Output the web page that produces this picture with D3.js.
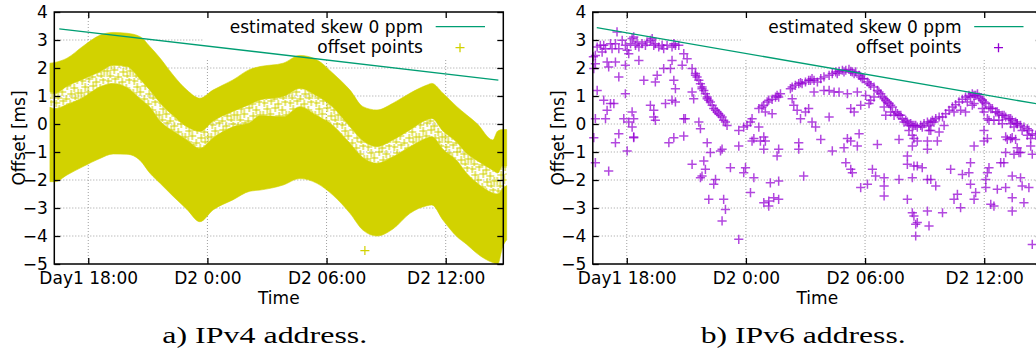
<!DOCTYPE html>
<html>
<head>
<meta charset="utf-8">
<script src="https://cdn.jsdelivr.net/npm/d3@7"></script>
<style>
  body { margin: 0; background: #fff; }
  svg { display: block; }
</style>
</head>
<body>
<svg id="chart" width="1036" height="349"></svg>
<script>
// ---- axis ranges and labels (time in hours from Day1 00:00, offset in ms) ----
const timeDomain = [16.29, 38.9];
const offsetDomain = [-5, 4];
const tickHours = [18, 24, 30, 36];
const tickLabels = ["Day1 18:00", "D2 0:00", "D2 06:00", "D2 12:00"];
const offsetTicks = [-5, -4, -3, -2, -1, 0, 1, 2, 3, 4];
const captions = ["a) IPv4 address.", "b) IPv6 address."];
const legendLabels = ["estimated skew 0 ppm", "offset points"];

// ---- IPv4: the offset cloud, described by its envelopes ----
const v4Time      = [16.07, 16.33, 16.93, 17.74, 18.59, 19.25, 19.95, 20.61, 21.11, 21.62, 22.27, 22.97, 23.62, 24.28, 25.28, 26.14, 26.65, 27.81, 28.66, 29.52, 30.32, 31.18, 31.83, 32.54, 33.34, 34.20, 35.05, 35.30, 35.86, 36.56, 37.06, 37.57, 38.37, 38.62, 38.87, 39.07];
const v4Upper     = [2.17, 2.20, 2.35, 2.78, 3.17, 3.27, 3.24, 3.12, 2.76, 2.35, 1.75, 1.21, 0.92, 1.21, 1.57, 1.95, 2.05, 2.17, 2.45, 2.29, 1.81, 1.21, 0.62, 0.50, 0.74, 1.10, 1.39, 1.45, 1.10, 0.62, 0.32, 0.02, -0.57, -0.25, -0.20, -0.20];
const v4GapTop    = [1.15, 1.10, 1.35, 1.60, 1.87, 2.10, 2.05, 1.60, 1.20, 0.75, 0.30, -0.10, -0.27, 0.10, 0.45, 0.70, 0.86, 0.98, 1.27, 1.00, 0.60, -0.10, -0.60, -0.81, -0.57, -0.21, 0.15, 0.20, -0.25, -0.65, -1.05, -1.30, -1.65, -1.75, -1.50, -1.50];
const v4GapBottom = [0.60, 0.55, 0.70, 0.95, 1.33, 1.45, 1.30, 0.90, 0.60, 0.10, -0.25, -0.57, -0.87, -0.50, -0.10, 0.05, 0.30, 0.26, 0.62, 0.30, -0.05, -0.69, -1.20, -1.40, -1.17, -0.81, -0.50, -0.45, -0.90, -1.30, -1.76, -2.10, -2.46, -2.50, -2.30, -2.20];
const v4Lower     = [-2.06, -2.06, -1.82, -1.52, -1.23, -1.07, -1.08, -1.30, -1.76, -2.12, -2.58, -3.05, -3.49, -3.07, -2.71, -2.40, -2.36, -2.18, -1.95, -2.12, -2.54, -3.19, -3.79, -4.00, -3.75, -3.19, -2.92, -2.89, -3.43, -4.02, -4.30, -4.62, -4.95, -5.00, -4.38, -4.14];
const v4Outliers  = [[31.93, -4.52]];
const v4Skew      = [[16.54, 3.40], [38.65, 1.57]];

// ---- IPv6: individual offset points [hour, offset ms] ----
const v6Points = [
  // early plateau
  [16.42, 2.45], [16.51, 2.75], [16.67, 2.81], [16.84, 2.81], [16.93, 2.69], [16.76, 2.57], [17.18, 2.87], [17.26, 2.69],
  [17.51, 3.29], [17.43, 2.87], [17.60, 2.69], [17.77, 2.99], [17.93, 2.81], [18.02, 2.63], [18.10, 2.51], [18.19, 2.87],
  [18.27, 3.05], [18.35, 3.11], [18.44, 2.81], [18.52, 2.93], [18.61, 2.75], [18.77, 2.87], [18.94, 2.81], [19.02, 2.93],
  [19.19, 2.99], [19.28, 3.05], [19.36, 2.81], [19.44, 2.87], [19.61, 2.75], [19.78, 2.81], [19.86, 2.69], [20.03, 2.81],
  [20.28, 2.75], [20.37, 2.87], [20.45, 2.81], [20.62, 2.81], [20.87, 2.51], [16.32, 2.40],
  // scattered below the plateau
  [16.34, 1.98], [16.42, 2.15], [17.01, 2.21], [17.09, 2.04], [17.43, 2.21], [17.60, 1.68], [17.93, 2.10], [18.61, 2.27],
  [18.86, 1.56], [19.44, 1.50], [19.53, 1.74], [19.86, 1.98], [20.20, 1.98], [20.28, 2.27], [20.37, 1.56], [20.45, 1.26],
  [20.79, 2.10], [16.51, 1.20], [16.84, 0.85], [17.18, 0.73], [17.01, 0.49], [17.35, 0.73], [17.93, 1.08], [18.27, 0.43],
  [18.10, 0.07], [18.35, 0.19], [18.27, -0.11], [17.85, 0.19], [19.19, 0.67], [19.36, 0.25], [19.44, 0.13], [19.95, 0.73],
  [20.28, 0.85], [20.45, 0.79], [20.87, 0.19], [20.95, 0.19], [21.29, 1.14], [21.37, 0.90], [21.63, 0.07], [21.71, -0.17],
  [16.42, 0.19], [16.93, 0.19], [17.60, -0.35], [18.35, -0.46], [19.36, 0.49],
  // first descent and trough
  [21.04, 2.33], [21.29, 1.98], [21.46, 1.80], [21.54, 1.68], [21.63, 1.56], [21.71, 1.44], [21.79, 1.32], [21.88, 1.20],
  [21.96, 1.08], [22.05, 0.96], [22.13, 0.85], [22.21, 0.79], [22.30, 0.67], [22.38, 0.55], [22.47, 0.49], [22.63, 0.37],
  [22.80, 0.25], [22.88, 0.13], [22.97, 0.07], [23.05, -0.05], [23.64, -0.23], [23.89, -0.11], [24.06, -0.05], [24.23, 0.07],
  [24.31, 0.19], [21.46, 1.74], [21.79, 1.26], [22.05, 0.90], [22.55, 0.43], [22.72, 0.31],
  // first rise
  [24.65, 0.55], [24.81, 0.61], [24.90, 0.67], [25.07, 0.79], [25.15, 0.85], [25.32, 0.88], [25.49, 0.96], [25.57, 1.02],
  [25.65, 0.96], [25.74, 1.08], [26.24, 1.26], [26.33, 1.32], [26.49, 1.38], [26.66, 1.44], [26.75, 1.48], [26.83, 1.44],
  [27.00, 1.50], [27.16, 1.56], [27.25, 1.56], [27.33, 1.62],
  [26.33, 0.90], [26.41, 0.67], [26.58, 0.49], [26.75, 0.19], [27.00, 0.43], [27.16, 0.55], [27.33, 0.07], [25.32, 0.37],
  [24.98, 0.43], [24.65, -0.11], [24.40, -0.52], [24.90, -0.46],
  // second hump, trough, third hump
  [27.43, 1.56], [27.60, 1.50], [27.77, 1.62], [27.93, 1.68], [28.19, 1.74], [28.35, 1.80], [28.52, 1.86], [28.69, 1.88],
  [28.86, 1.92], [29.03, 1.92], [29.19, 1.95], [29.28, 1.88], [29.45, 1.80], [29.53, 1.86], [29.70, 1.74], [29.78, 1.68],
  [29.95, 1.62], [30.12, 1.50], [30.28, 1.38], [30.45, 1.32], [30.62, 1.20], [30.79, 1.08], [30.87, 0.96], [30.96, 0.90],
  [31.04, 0.85], [31.12, 0.79], [31.21, 0.73], [31.38, 0.61], [31.54, 0.43], [31.71, 0.31], [31.88, 0.19], [32.05, 0.13],
  [32.13, 0.07], [32.30, 0.01], [32.46, -0.05], [32.63, -0.11], [32.80, -0.05], [32.97, 0.01], [33.14, 0.07], [33.39, 0.13],
  [33.56, 0.19], [33.73, 0.25], [33.90, 0.25], [34.06, 0.37], [34.23, 0.49], [34.40, 0.61], [34.56, 0.69], [34.73, 0.79],
  [34.90, 0.88], [35.06, 0.96], [35.23, 1.02], [35.40, 1.08], [35.57, 1.02], [35.74, 0.96], [35.91, 0.85], [36.08, 0.73],
  [36.24, 0.61], [36.41, 0.55], [36.58, 0.43], [36.74, 0.37], [36.91, 0.31], [37.08, 0.25], [37.25, 0.19], [37.41, 0.13],
  [37.58, 0.07], [37.83, -0.05], [38.00, -0.11], [38.25, -0.23], [38.42, -0.35], [38.59, -0.40],
  [28.60, 1.80], [28.94, 1.86], [29.36, 1.86], [29.86, 1.62], [30.20, 1.44], [30.70, 1.14], [31.29, 0.67], [31.63, 0.37],
  [32.21, -0.05], [32.38, -0.05], [32.55, -0.05], [32.88, -0.11], [33.22, -0.05], [33.31, 0.07], [35.31, 0.96], [35.49, 1.02],
  [35.66, 1.08], [35.83, 0.90], [35.99, 0.79], [36.33, 0.55], [36.66, 0.43], [37.00, 0.31], [37.33, 0.19], [37.66, 0.01],
  [38.17, -0.17],
  // secondary trace and scatter near the humps
  [27.43, 1.14], [27.93, 1.20], [28.19, 1.20], [28.44, 1.14], [28.69, 1.14], [29.11, 1.08], [29.61, 1.14], [30.03, 1.02],
  [30.28, 0.85], [30.45, 0.96], [28.19, 0.25], [29.28, 0.55], [29.45, 0.43], [29.78, 0.67], [30.20, 0.73], [30.96, 0.61],
  [31.04, 0.31], [31.29, 0.43], [31.46, 0.31], [31.80, 0.31], [31.96, 0.07], [32.21, -0.23], [32.38, -0.40], [32.46, -0.52],
  [33.22, -0.23], [33.47, 0.07], [33.31, -0.23], [33.73, -0.29], [33.98, -0.05], [34.48, 0.43], [34.81, 0.49], [35.06, 0.43],
  [35.15, 0.79], [35.40, 0.67], [35.49, 0.73], [35.91, 0.55], [35.99, 0.43], [36.16, 0.19], [36.24, 0.13], [36.49, 0.13],
  [36.74, 0.13], [36.91, 0.01], [37.33, 0.01], [37.50, -0.11], [37.66, 0.01], [37.91, -0.23], [38.17, -0.40], [38.34, -0.52],
  [35.99, -0.23], [36.16, -0.52], [37.08, -0.46], [37.33, -0.52], [27.51, -0.11], [29.70, -0.35], [29.11, -0.52],
  // lower scatter, first half
  [16.34, -0.49], [16.42, -1.38], [17.09, -1.68], [17.43, -0.67], [18.02, -0.96], [18.35, -0.49], [20.12, -0.67], [20.37, -0.49],
  [20.87, -0.43], [21.29, -1.44], [21.88, -1.32], [21.96, -1.62], [21.71, -1.92], [21.79, -1.86], [22.05, -0.67], [22.21, -1.02],
  [22.38, -2.15], [22.47, -1.98], [22.72, -0.96], [22.80, -0.90], [22.13, -2.69], [22.88, -2.69], [22.97, -3.05], [22.80, -3.46],
  [23.22, -1.56], [23.64, -0.79], [23.64, -4.12], [23.89, -1.74], [23.98, -1.56], [24.23, -2.45], [24.31, -0.61], [24.40, -1.92],
  [24.73, -0.61], [24.98, -0.61], [24.90, -0.90], [24.90, -2.81], [25.15, -2.93], [25.15, -2.75], [25.23, -2.10], [25.40, -2.63],
  [25.57, -1.14], [25.65, -2.04], [25.65, -2.69], [25.65, -0.90], [26.66, -0.67], [26.66, -0.90], [26.91, -1.86],
  // lower scatter, second half
  [27.77, -0.55], [28.35, -0.96], [28.94, -0.85], [29.28, -0.61], [29.61, -0.79], [30.62, -0.73], [31.71, -0.55], [29.03, -1.38],
  [29.28, -1.62], [29.36, -1.74], [29.78, -2.27], [30.12, -2.15], [30.37, -1.62], [30.53, -1.86], [30.96, -1.92], [30.96, -2.21],
  [30.96, -2.57], [31.71, -1.98], [32.13, -1.14], [32.13, -1.44], [32.46, -1.50], [32.63, -1.50], [32.88, -1.56], [32.13, -2.69],
  [32.38, -1.92], [32.38, -3.17], [32.46, -3.29], [32.55, -3.58], [32.63, -3.52], [32.55, -4.00], [33.14, -3.11], [33.22, -3.64],
  [33.14, -1.98], [33.31, -1.98], [33.56, -2.21], [33.14, -0.90], [33.64, -0.61], [33.14, -0.61], [32.63, -0.61], [32.38, -0.79],
  [33.90, -3.17], [34.31, -1.62], [34.48, -2.69], [34.65, -2.51], [34.81, -2.99], [34.90, -1.80], [35.23, -1.74], [35.31, -1.38],
  [35.31, -2.15], [35.49, -0.79], [35.57, -2.45], [35.49, -2.69], [35.99, -0.61], [36.08, -1.98], [36.16, -1.74], [36.08, -2.27],
  [36.24, -1.56], [36.33, -2.87], [36.49, -2.93], [36.66, -2.33], [36.83, -1.38], [36.99, -1.38], [37.08, -2.27], [37.08, -1.02],
  [37.16, -0.55], [37.41, -0.49], [37.50, -1.08], [37.58, -0.55], [37.66, -0.85], [37.75, -1.02], [37.83, -1.02], [37.41, -1.86],
  [37.83, -1.92], [37.91, -2.21], [37.41, -2.63], [37.41, -3.11], [38.00, -2.81], [38.25, -2.27], [38.34, -0.79], [38.42, -1.08],
  [38.42, -4.30]
];
const v6Skew = [[16.49, 3.44], [38.65, 0.72]];

// ---- styling ----
const FONT = "'DejaVu Sans', sans-serif";
const YELLOW = "#d2d200";
const PURPLE = "#9400d3";
const GREEN = "#009e73";
const W = 449, H = 252, TOP = 12;

const svg = d3.select("#chart");
const x = d3.scaleLinear().domain(timeDomain).range([0, W]);
const y = d3.scaleLinear().domain(offsetDomain).range([H, 0]);

const crossPath = (cx, cy, r) => `M${cx - r},${cy}h${2 * r}M${cx},${cy - r}v${2 * r}`;

// texture for the thinly populated strip inside the IPv4 cloud
const defs = svg.append("defs");
const pat = defs.append("pattern")
  .attr("id", "sparse").attr("patternUnits", "userSpaceOnUse")
  .attr("width", 26).attr("height", 22);
const patCrosses = [[2,3],[9,1],[16,4],[23,2],[5,9],[13,8],[20,10],[1,15],[8,14],[17,16],[24,15],[4,20],[12,21],[21,20]];
pat.selectAll("path").data(patCrosses).join("path")
  .attr("d", d => crossPath(d[0], d[1], 4))
  .attr("stroke", YELLOW).attr("stroke-width", 1.1).attr("fill", "none");

function basePanel(x0) {
  const g = svg.append("g").attr("transform", `translate(${x0},${TOP})`);
  // dotted grid
  const grid = g.append("g").attr("stroke", "#a0a0a0").attr("stroke-width", 1).attr("stroke-dasharray", "1,2");
  grid.selectAll("line.v").data(tickHours).join("line")
    .attr("x1", d => x(d)).attr("x2", d => x(d)).attr("y1", 0).attr("y2", H);
  grid.selectAll("line.h").data(offsetTicks.filter(d => d > offsetDomain[0] && d < offsetDomain[1])).join("line")
    .attr("x1", 0).attr("x2", W).attr("y1", d => y(d)).attr("y2", d => y(d));
  // opaque key area
  g.append("rect").attr("x", 149.7).attr("y", 0).attr("width", W - 149.7).attr("height", 46).attr("fill", "#fff");
  return g;
}

function styleAxis(sel) {
  sel.attr("font-size", null).attr("font-family", null);
  sel.select(".domain").remove();
  sel.selectAll(".tick line").attr("stroke", "#000").attr("stroke-width", 1.3);
  sel.selectAll(".tick text").attr("fill", "#000")
    .style("font-family", FONT).style("font-size", "17px");
}

function frame(g, caption, captionX) {
  const axes = g.append("g");
  axes.append("g").attr("transform", `translate(0,${H})`)
    .call(d3.axisBottom(x).tickValues(tickHours).tickFormat((d, i) => tickLabels[i]).tickSizeInner(-6).tickSizeOuter(0).tickPadding(7.5))
    .call(styleAxis);
  axes.append("g")
    .call(d3.axisTop(x).tickValues(tickHours).tickFormat("").tickSizeInner(-6).tickSizeOuter(0))
    .call(styleAxis);
  axes.append("g")
    .call(d3.axisLeft(y).tickValues(offsetTicks).tickFormat(d3.format("d")).tickSizeInner(-6).tickSizeOuter(0).tickPadding(6.5))
    .call(styleAxis)
    .selectAll(".tick text").attr("dy", "0.33em");
  axes.append("g").attr("transform", `translate(${W},0)`)
    .call(d3.axisRight(y).tickValues(offsetTicks).tickFormat("").tickSizeInner(-6).tickSizeOuter(0))
    .call(styleAxis);
  g.append("rect").attr("x", 0).attr("y", 0).attr("width", W).attr("height", H)
    .attr("fill", "none").attr("stroke", "#000").attr("stroke-width", 1.5);

  g.append("text").attr("x", W / 2).attr("y", 291.5).attr("text-anchor", "middle")
    .style("font-family", FONT).style("font-size", "17px").text("Time");
  g.append("text").attr("transform", `translate(-29.3,${H / 2}) rotate(-90)`).attr("text-anchor", "middle")
    .style("font-family", FONT).style("font-size", "17px").text("Offset [ms]");

  svg.append("text").attr("x", captionX).attr("y", 343)
    .attr("textLength", 205).attr("lengthAdjust", "spacingAndGlyphs")
    .style("font-family", "'Liberation Serif', serif").style("font-size", "24px")
    .text(caption);
}

function legend(g, color) {
  const lg = g.append("g").style("font-family", FONT).style("font-size", "17px");
  lg.append("text").attr("x", 368.7).attr("y", 21.3).attr("text-anchor", "end").text(legendLabels[0]);
  lg.append("text").attr("x", 368.7).attr("y", 41.3).attr("text-anchor", "end").text(legendLabels[1]);
  lg.append("line").attr("x1", 381.4).attr("x2", 430.7).attr("y1", 14.7).attr("y2", 14.7)
    .attr("stroke", GREEN).attr("stroke-width", 1.3);
  lg.append("path").attr("d", crossPath(405.7, 35.7, 4.5)).attr("stroke", color).attr("stroke-width", 1.3).attr("fill", "none");
}

function skewLine(g, pts) {
  g.append("path").datum(pts)
    .attr("d", d3.line().x(d => x(d[0])).y(d => y(d[1])))
    .attr("stroke", GREEN).attr("stroke-width", 1.3).attr("fill", "none");
}

// ---- panel a: IPv4 ----
{
  const g = basePanel(54.3);
  const idx = d3.range(v4Time.length);
  const band = (lo, hi) => d3.area().x(i => x(v4Time[i])).y0(i => y(lo[i])).y1(i => y(hi[i])).curve(d3.curveMonotoneX);
  g.append("path").datum(idx).attr("d", band(v4GapBottom, v4GapTop)).attr("fill", "url(#sparse)");
  g.append("path").datum(idx).attr("d", band(v4GapTop, v4Upper))
    .attr("fill", YELLOW).attr("stroke", YELLOW).attr("stroke-width", 0.6);
  g.append("path").datum(idx).attr("d", band(v4Lower, v4GapBottom))
    .attr("fill", YELLOW).attr("stroke", YELLOW).attr("stroke-width", 0.6);
  g.selectAll("path.out").data(v4Outliers).join("path").attr("class", "out")
    .attr("d", d => crossPath(x(d[0]), y(d[1]), 4.5))
    .attr("stroke", YELLOW).attr("stroke-width", 1.2).attr("fill", "none");
  skewLine(g, v4Skew);
  frame(g, captions[0], 162.3);
  legend(g, YELLOW);
}

// ---- panel b: IPv6 ----
{
  const g = basePanel(592.8);
  g.selectAll("path.pt").data(v6Points).join("path").attr("class", "pt")
    .attr("d", d => crossPath(x(d[0]), y(d[1]), 4.6))
    .attr("stroke", PURPLE).attr("stroke-opacity", 0.72).attr("stroke-width", 1.5).attr("fill", "none");
  skewLine(g, v6Skew);
  frame(g, captions[1], 700.7);
  legend(g, PURPLE);
}
</script>
</body>
</html>
